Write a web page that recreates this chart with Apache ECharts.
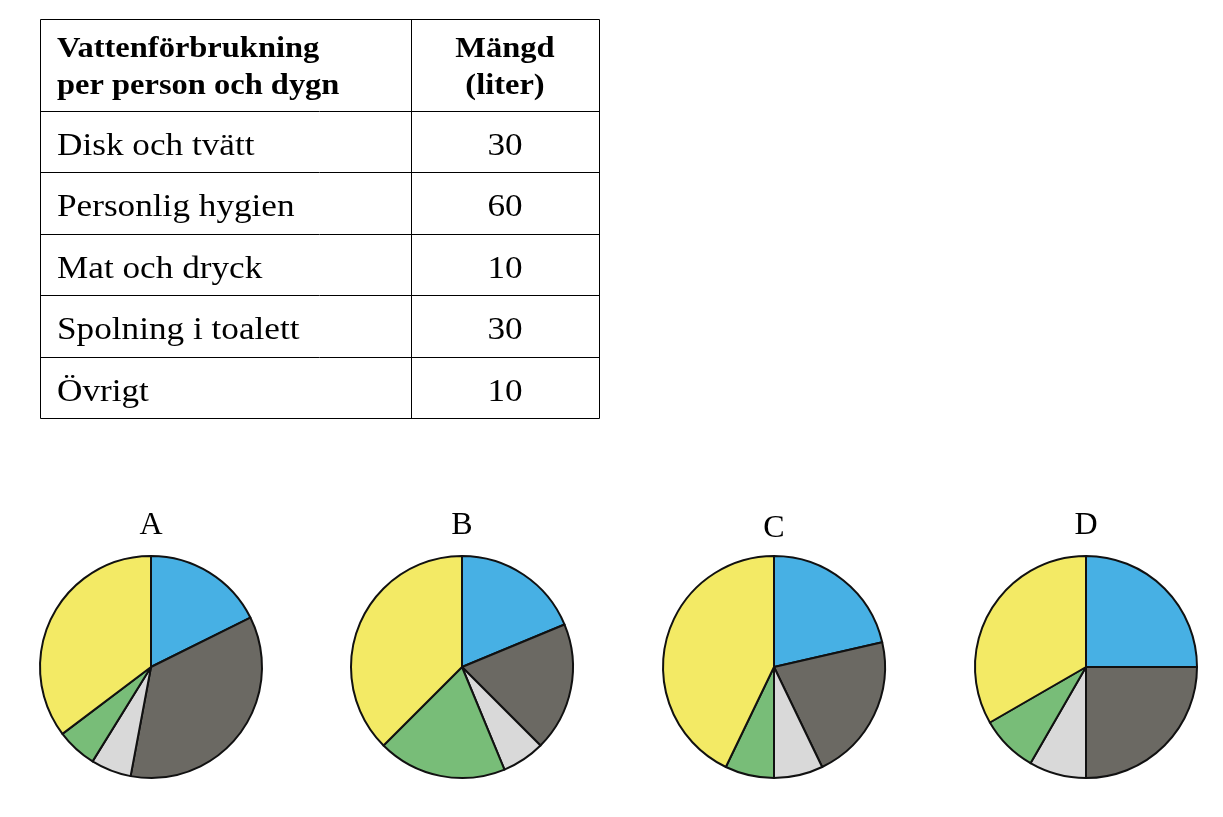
<!DOCTYPE html>
<html>
<head>
    <meta charset="UTF-8">
    <title>Vattenförbrukning</title>
    <style>
        html, body {
            height: 100%;
            width: 100%;
            margin: 0;
            padding: 0;
            background: #fff;
        }
    </style>
    <script src="https://cdn.jsdelivr.net/npm/echarts@6/dist/echarts.min.js"></script>
</head>
<body>
<div id="main" style="width: 1223px; height: 817px;"></div>
<script type="text/javascript">
    // tabellens innehåll
    var headLeft = ['Vattenförbrukning', 'per person och dygn'];
    var headRight = ['Mängd', '(liter)'];
    var rowNames = ['Disk och tvätt', 'Personlig hygien', 'Mat och dryck', 'Spolning i toalett', 'Övrigt'];
    var rowLiters = [30, 60, 10, 30, 10];

    // cirkeldiagrammen, medurs från kl 12: blå, mörkgrå, ljusgrå, grön, gul
    var pieNames = ['A', 'B', 'C', 'D'];
    var pieA = [30, 60, 10, 10, 60];
    var pieB = [30, 30, 10, 30, 60];
    var pieC = [30, 30, 10, 10, 60];
    var pieD = [30, 30, 10, 10, 40];
    var sliceColors = ['#47b0e4', '#6b6963', '#d9d9d9', '#78bd78', '#f3ea65'];

    var serif = '"Liberation Serif", "DejaVu Serif", serif';

    function cellText(x, y, txt, font, align, sx) {
        return {
            type: 'text', x: x, y: y, scaleX: sx,
            style: {text: txt, font: font, fill: '#000', textAlign: align, textVerticalAlign: 'middle'}
        };
    }

    function buildTable() {
        var left = 40, mid = 411, right = 599;
        var lines = [19, 111, 172, 234, 295, 357, 418];
        var g = [];
        // ramar
        g.push({type: 'rect', shape: {x: left + 0.5, y: lines[0] + 0.5, width: right - left, height: lines[6] - lines[0]},
            style: {fill: 'none', stroke: '#000', lineWidth: 1}});
        g.push({type: 'line', shape: {x1: mid + 0.5, y1: lines[0], x2: mid + 0.5, y2: lines[6]},
            style: {stroke: '#000', lineWidth: 1}});
        for (var i = 1; i < 6; i++) {
            g.push({type: 'line', shape: {x1: left, y1: lines[i] + 0.5, x2: right, y2: lines[i] + 0.5},
                style: {stroke: '#000', lineWidth: 1}});
        }
        // rubriker
        for (var j = 0; j < 2; j++) {
            g.push(cellText(57, 50 + j * 37, headLeft[j], 'bold 29px ' + serif, 'left', 1.12));
            g.push(cellText((mid + right) / 2, 50 + j * 37, headRight[j], 'bold 29px ' + serif, 'center', 1.12));
        }
        // rader
        for (var k = 0; k < rowNames.length; k++) {
            var cy = (lines[k + 1] + lines[k + 2]) / 2 + 5;
            g.push(cellText(57, cy, rowNames[k], '32px ' + serif, 'left', 1.1));
            g.push(cellText((mid + right) / 2, cy, String(rowLiters[k]), '32px ' + serif, 'center', 1.1));
        }
        return g;
    }

    function createChart() {
        var myChart = echarts.init(document.getElementById('main'));
        var pies = [pieA, pieB, pieC, pieD];
        var centersX = [151, 462, 774, 1086];
        var titleY = [524, 524, 527, 524];
        var series = [];
        var titleMarks = [];
        for (var p = 0; p < pies.length; p++) {
            series.push({
                name: pieNames[p],
                type: 'pie',
                center: [centersX[p], 667],
                radius: 111,
                startAngle: 90,
                clockwise: true,
                animation: false,
                silent: true,
                label: {show: false},
                labelLine: {show: false},
                itemStyle: {borderColor: '#111', borderWidth: 2},
                data: pies[p].map(function (v, i) {
                    return {value: v, itemStyle: {color: sliceColors[i]}};
                })
            });
            titleMarks.push(cellText(centersX[p], titleY[p] + 2, pieNames[p], '32px ' + serif, 'center', 1));
        }
        var option = {
            backgroundColor: '#fff',
            graphic: buildTable().concat(titleMarks),
            series: series
        };
        myChart.setOption(option);
    }
    createChart();
</script>
</body>
</html>
